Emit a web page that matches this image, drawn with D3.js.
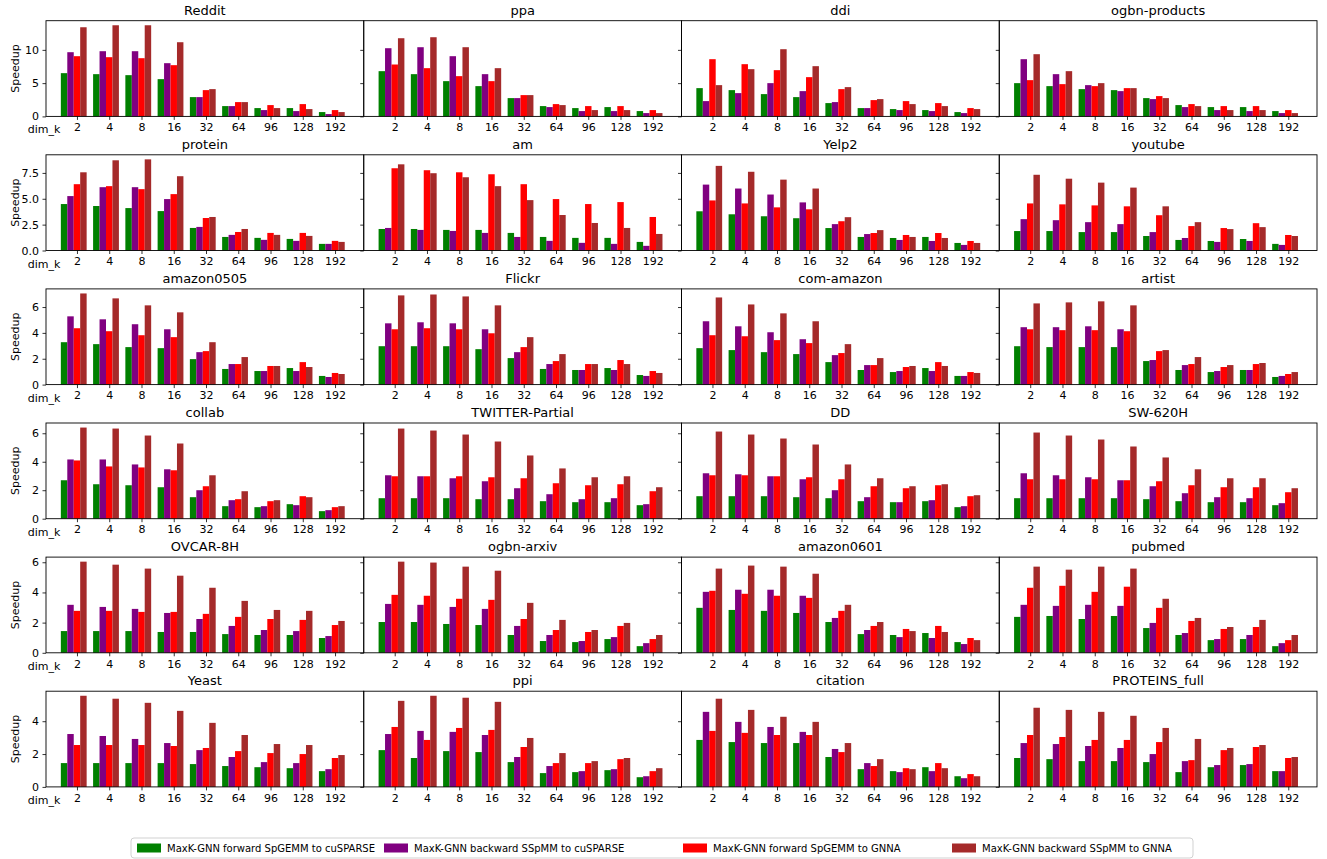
<!DOCTYPE html>
<html><head><meta charset="utf-8">
<script src="https://cdn.jsdelivr.net/npm/d3@7"></script>
<style>body{margin:0;background:#fff}svg{display:block}text{font-family:"DejaVu Sans",sans-serif}</style>
</head><body><svg id="c" width="1327" height="859"></svg>
<script>
const categories = ["2","4","8","16","32","64","96","128","192"];
const datasets = ["Reddit","ppa","ddi","ogbn-products","protein","am","Yelp2","youtube",
  "amazon0505","Flickr","com-amazon","artist","collab","TWITTER-Partial","DD","SW-620H",
  "OVCAR-8H","ogbn-arxiv","amazon0601","pubmed","Yeast","ppi","citation","PROTEINS_full"];
const seriesNames = ["MaxK-GNN forward SpGEMM to cuSPARSE","MaxK-GNN backward SSpMM to cuSPARSE",
  "MaxK-GNN forward SpGEMM to GNNA","MaxK-GNN backward SSpMM to GNNA"];
const seriesColors = ["green","purple","red","brown"];
const yTicksByRow = [[0,5,10],[0,2.5,5,7.5],[0,2,4,6],[0,2,4,6],[0,2,4,6],[0,2,4]];
const yTickLabelsByRow = [["0","5","10"],["0.0","2.5","5.0","7.5"],["0","2","4","6"],["0","2","4","6"],["0","2","4","6"],["0","2","4"]];

// one row per dataset (same order as datasets), one value per dim_k
const fwdCusparse = [
 [6.5,6.35,6.2,5.6,2.9,1.55,1.25,1.25,0.65],
 [6.8,6.35,5.3,4.55,2.75,1.55,1.25,1.4,0.8],
 [4.25,3.95,3.35,2.9,2.0,1.25,1.1,0.95,0.65],
 [5.0,4.55,4.1,3.95,2.75,1.7,1.4,1.4,0.8],
 [4.49,4.3,4.1,3.81,2.18,1.31,1.22,1.12,0.64],
 [2.08,2.08,1.99,1.99,1.7,1.31,1.22,1.22,0.83],
 [3.79,3.5,3.31,3.12,2.17,1.31,1.21,1.31,0.73],
 [1.88,1.88,1.78,1.78,1.4,1.02,0.92,1.11,0.64],
 [3.28,3.13,2.9,2.82,1.97,1.21,1.05,1.28,0.67],
 [2.97,2.97,2.97,2.74,2.05,1.21,1.13,1.28,0.74],
 [2.82,2.67,2.51,2.36,1.74,1.13,0.97,1.28,0.67],
 [2.97,2.9,2.9,2.9,1.82,1.13,0.97,1.13,0.59],
 [2.7,2.42,2.35,2.21,1.51,0.88,0.81,1.02,0.53],
 [1.44,1.44,1.44,1.37,1.37,1.23,1.16,1.16,0.95],
 [1.58,1.58,1.58,1.51,1.44,1.23,1.16,1.23,0.81],
 [1.44,1.44,1.44,1.44,1.37,1.23,1.16,1.16,0.95],
 [1.44,1.44,1.44,1.38,1.38,1.24,1.18,1.18,0.98],
 [2.04,2.04,1.91,1.84,1.18,0.78,0.71,0.91,0.44],
 [2.98,2.84,2.78,2.64,2.04,1.24,1.18,1.31,0.71],
 [2.38,2.44,2.24,2.44,1.64,1.18,0.84,0.91,0.44],
 [1.45,1.45,1.45,1.45,1.39,1.27,1.2,1.14,0.96],
 [2.24,1.76,2.18,2.12,1.51,0.84,0.9,1.02,0.59],
 [2.86,2.73,2.67,2.67,1.82,1.08,0.96,1.2,0.65],
 [1.76,1.69,1.57,1.57,1.51,0.9,1.2,1.33,0.96]
];
const bwdCusparse = [
 [9.65,9.8,9.8,8.0,2.9,1.55,0.95,0.8,0.35],
 [10.25,10.4,9.05,6.35,2.75,1.4,0.8,0.8,0.5],
 [2.3,3.5,5.0,3.8,2.15,1.25,0.95,0.8,0.5],
 [8.6,6.35,4.7,3.8,2.6,1.4,0.95,0.8,0.5],
 [5.26,6.12,6.12,4.97,2.28,1.51,1.03,0.93,0.64],
 [2.18,1.99,1.89,1.7,1.31,0.93,0.74,0.64,0.45],
 [6.37,5.99,5.41,4.65,2.55,1.59,1.02,0.92,0.54],
 [3.03,2.93,2.74,2.55,1.78,1.21,0.83,0.92,0.54],
 [5.28,5.05,4.67,4.28,2.51,1.59,1.05,1.05,0.59],
 [4.74,4.82,4.74,4.28,2.51,1.59,1.13,1.13,0.67],
 [4.9,4.51,4.05,3.51,2.28,1.51,1.05,1.05,0.67],
 [4.44,4.44,4.51,4.28,1.9,1.51,1.05,1.13,0.67],
 [4.16,4.16,3.81,3.47,2.0,1.3,0.88,0.95,0.6],
 [3.05,2.98,2.84,2.63,2.14,1.72,1.37,1.44,1.02],
 [3.19,3.12,2.98,2.77,2.0,1.51,1.16,1.3,0.88],
 [3.19,3.05,2.91,2.7,2.28,1.79,1.51,1.44,1.09],
 [3.18,3.04,2.91,2.64,2.24,1.78,1.51,1.44,1.11],
 [3.24,3.18,3.04,2.91,1.78,1.18,0.78,1.04,0.64],
 [4.04,4.18,4.18,3.78,2.31,1.51,1.04,0.98,0.58],
 [3.18,3.11,3.18,3.11,1.98,1.31,0.91,1.18,0.64],
 [3.22,3.1,2.92,2.67,2.24,1.82,1.51,1.45,1.08],
 [3.22,3.41,3.35,3.16,1.82,1.27,0.96,1.08,0.65],
 [4.57,3.96,3.65,3.35,2.31,1.45,0.9,0.96,0.53],
 [2.67,2.61,2.49,2.37,2.0,1.57,1.33,1.39,0.96]
];
const fwdGnna = [
 [9.05,8.9,8.75,7.7,3.95,2.15,1.7,1.85,0.95],
 [7.8,7.25,6.05,5.3,3.2,1.85,1.55,1.55,0.95],
 [8.6,7.85,6.95,5.9,4.1,2.45,2.3,2.0,1.25],
 [5.45,4.85,4.55,4.25,3.05,1.85,1.55,1.55,0.95],
 [6.41,6.22,5.93,5.45,3.14,1.79,1.7,1.7,0.93],
 [7.95,7.76,7.56,7.37,6.41,4.97,4.49,4.68,3.24],
 [4.84,4.55,4.17,3.98,2.83,1.69,1.5,1.69,0.92],
 [4.55,4.46,4.36,4.27,3.41,2.36,2.17,2.64,1.5],
 [4.36,4.13,3.82,3.67,2.59,1.59,1.44,1.74,0.9],
 [4.28,4.36,4.28,3.97,2.9,1.82,1.59,1.9,1.05],
 [3.82,3.74,3.44,3.21,2.44,1.51,1.36,1.74,0.97],
 [4.28,4.21,4.21,4.13,2.59,1.59,1.36,1.59,0.82],
 [4.09,3.67,3.6,3.4,2.28,1.37,1.23,1.58,0.81],
 [2.98,2.98,2.98,2.91,2.84,2.49,2.35,2.42,1.93],
 [3.05,3.05,2.98,2.91,2.77,2.28,2.14,2.35,1.58],
 [2.77,2.77,2.77,2.7,2.63,2.35,2.21,2.21,1.86],
 [2.78,2.78,2.71,2.71,2.58,2.38,2.24,2.18,1.84],
 [3.84,3.78,3.58,3.51,2.24,1.51,1.38,1.78,0.91],
 [4.11,3.91,3.78,3.64,2.78,1.78,1.58,1.78,0.98],
 [4.31,4.44,4.04,4.38,2.98,2.11,1.58,1.71,0.84],
 [2.55,2.55,2.55,2.49,2.37,2.18,2.06,2.0,1.76],
 [3.65,2.86,3.59,3.47,2.43,1.45,1.45,1.69,0.96],
 [3.41,3.29,3.16,3.16,2.12,1.27,1.14,1.45,0.78],
 [3.16,3.04,2.86,2.86,2.73,1.63,2.24,2.43,1.76]
];
const bwdGnna = [
 [13.4,13.7,13.7,11.15,4.1,2.15,1.25,1.1,0.65],
 [11.75,11.9,10.4,7.25,3.2,1.7,0.95,0.95,0.5],
 [4.7,7.1,10.1,7.55,4.4,2.6,1.85,1.55,1.1],
 [9.35,6.8,5.0,4.25,2.75,1.55,0.95,0.95,0.5],
 [7.56,8.72,8.81,7.18,3.24,2.08,1.51,1.41,0.83],
 [8.33,7.47,7.08,6.22,4.87,3.43,2.66,2.18,1.6],
 [8.18,7.61,6.85,5.99,3.22,1.97,1.31,1.21,0.73],
 [7.32,6.94,6.56,6.08,4.27,2.74,2.07,2.26,1.4],
 [7.05,6.67,6.13,5.59,3.28,2.13,1.44,1.36,0.82],
 [6.9,6.97,6.82,6.13,3.67,2.36,1.59,1.59,0.9],
 [6.74,6.2,5.51,4.9,3.13,2.05,1.44,1.44,0.9],
 [6.28,6.36,6.44,6.13,2.67,2.13,1.51,1.67,0.97],
 [6.4,6.33,5.84,5.28,3.05,1.93,1.3,1.51,0.88],
 [6.33,6.19,5.91,5.42,4.44,3.53,2.91,2.98,2.21],
 [6.12,5.91,5.63,5.21,3.81,2.84,2.28,2.42,1.65],
 [6.05,5.84,5.56,5.07,4.3,3.47,2.84,2.84,2.14],
 [6.04,5.84,5.58,5.11,4.31,3.44,2.84,2.78,2.11],
 [6.04,5.98,5.71,5.44,3.31,2.18,1.51,1.98,1.18],
 [5.58,5.78,5.71,5.24,3.18,2.04,1.44,1.38,0.84],
 [5.71,5.51,5.71,5.58,3.58,2.31,1.71,2.18,1.18],
 [5.55,5.37,5.12,4.63,3.9,3.16,2.61,2.55,1.94],
 [5.24,5.55,5.43,5.18,2.98,2.06,1.57,1.76,1.14],
 [5.37,4.69,4.27,3.96,2.67,1.69,1.08,1.14,0.65],
 [4.82,4.69,4.57,4.33,3.59,2.92,2.37,2.55,1.82]
];
const allSeries = [fwdCusparse, bwdCusparse, fwdGnna, bwdGnna];

const svg = d3.select("#c");
const colLeft0 = 46, colW = 317.75, rowTop0 = 20.7, rowStep = 134.1, axH = 95.7;
const nCols = 4, nRows = 6;
const offsets = [-0.4,-0.2,0,0.2], barW = 0.2;

for (let r = 0; r < nRows; r++) {
  let rowMax = 0;
  for (let c = 0; c < nCols; c++) {
    const d = r*nCols + c;
    allSeries.forEach(s => { rowMax = Math.max(rowMax, d3.max(s[d])); });
  }
  const top = rowTop0 + r*rowStep;
  const y = d3.scaleLinear().domain([0, rowMax*1.05]).range([top+axH, top]);
  for (let c = 0; c < nCols; c++) {
    const d = r*nCols + c;
    const left = colLeft0 + c*colW;
    const x = d3.scaleLinear().domain([-0.96, 8.89]).range([left, left+colW]);
    const g = svg.append("g");
    allSeries.forEach((s, si) => {
      g.selectAll(null).data(s[d]).join("rect")
        .attr("x", (v,i) => x(i + offsets[si] - barW/2))
        .attr("width", x(barW) - x(0))
        .attr("y", v => y(v))
        .attr("height", v => y(0) - y(v))
        .attr("fill", seriesColors[si]);
    });
    // frame
    g.append("rect").attr("x", left).attr("y", top).attr("width", colW).attr("height", axH)
      .attr("fill","none").attr("stroke","#000").attr("stroke-width",0.9);
    // x axis
    const xa = d3.axisBottom(x).tickValues(d3.range(categories.length))
      .tickFormat(i => categories[i]).tickSize(3.5).tickPadding(3.5);
    const gx = svg.append("g").attr("transform", `translate(0,${top+axH})`).call(xa);
    gx.select(".domain").remove();
    gx.selectAll("text").attr("font-size", 11).attr("font-family","DejaVu Sans").attr("fill","#000");
    gx.selectAll("line").attr("stroke","#000").attr("stroke-width",0.8);
    // y axis
    const ya = d3.axisLeft(y).tickValues(yTicksByRow[r]).tickSize(3.5).tickPadding(3.5)
      .tickFormat((v,i) => c === 0 ? yTickLabelsByRow[r][i] : "");
    const gy = svg.append("g").attr("transform", `translate(${left},0)`).call(ya);
    gy.select(".domain").remove();
    gy.selectAll("text").attr("font-size", 11).attr("font-family","DejaVu Sans").attr("fill","#000");
    gy.selectAll("line").attr("stroke","#000").attr("stroke-width",0.8);
    // title
    svg.append("text").attr("x", left + colW/2).attr("y", top - 6)
      .attr("text-anchor","middle").attr("font-size", 13).text(datasets[d]);
    if (c === 0) {
      svg.append("text").attr("transform", `translate(19,${top+axH/2}) rotate(-90)`)
        .attr("text-anchor","middle").attr("font-size", 11).text("Speedup");
      svg.append("text").attr("x", 44).attr("y", top+axH+17)
        .attr("text-anchor","middle").attr("font-size", 11).text("dim_k");
    }
  }
}

// legend
const lg = svg.append("g");
lg.append("rect").attr("x",131).attr("y",838).attr("width",1062).attr("height",20)
  .attr("rx",3).attr("fill","#fff").attr("stroke","#ccc").attr("stroke-width",0.9);
const legX = [137, 384, 683, 952];
seriesNames.forEach((n,i) => {
  lg.append("rect").attr("x",legX[i]).attr("y",843.5).attr("width",24).attr("height",9).attr("fill",seriesColors[i]);
  lg.append("text").attr("x",legX[i]+30).attr("y",852).attr("font-size",10).text(n);
});
</script></body></html>
